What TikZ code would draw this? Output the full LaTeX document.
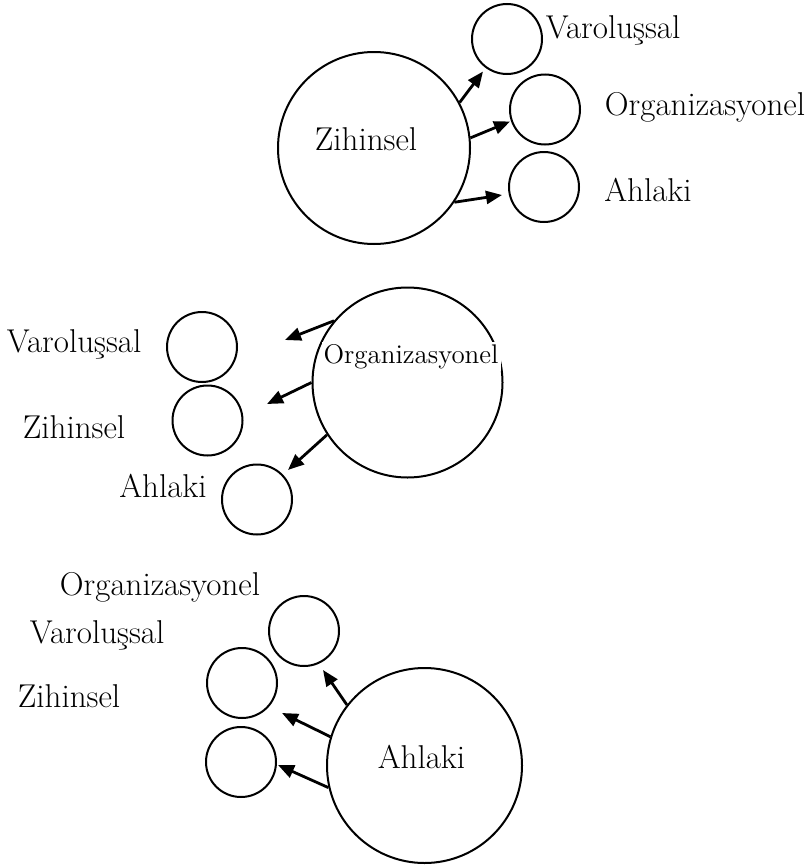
\documentclass[tikz,border=0pt]{standalone}
\usepackage{tikz}
\usetikzlibrary{arrows.meta}

\begin{document}
\begin{tikzpicture}[x=0.5pt, y=-0.5pt,
		kucuk/.style={circle, draw, line width=1pt, minimum size=35pt, inner sep=0pt},
		buyuk/.style={circle, draw, line width=1pt, inner sep=0pt},
		etiket/.style={anchor=base, inner sep=0pt, font=\fontsize{16.5}{19}\selectfont},
		ok/.style={line width=1.4pt, -{Triangle[length=8pt, width=6.5pt]}}]
				\useasboundingbox (0,0) rectangle (809,867);
				% Zihinsel
				\node[buyuk, minimum size=96pt] (zih) at (374,148) {};
				\node[etiket] (zihL) at (366,150) {Zihinsel};
				\node[kucuk] (zihV) at (507,39) {};
				\node[kucuk] (zihO) at (545,109.5) {};
				\node[kucuk] (zihA) at (544,187) {};
				\node[etiket] (zihVL) at (613,38.5) {Varoluşsal};
				\node[etiket] (zihOL) at (705,115) {Organizasyonel};
				\node[etiket] (zihAL) at (648,201.5) {Ahlaki};
				\coordinate (zihV1) at (483,71.5);
				\coordinate (zihO1) at (510,121.5);
				\coordinate (zihA1) at (502,195);
				\draw[ok] (zih.28) -- (zihV1);
				\draw[ok] (zih.6) -- (zihO1);
				\draw[ok] (zih.-34) -- (zihA1);
				
				% Organizasyonel
				\node[buyuk, minimum size=95pt] (org) at (407.5,382.5) {};
				\node[etiket, fill=white, inner sep=1pt, font=\fontsize{13.5}{16}\selectfont] (orgL) at (411,363) {Organizasyonel};
				\node[kucuk] (orgV) at (202,347) {};
				\node[kucuk] (orgZ) at (207.5,420.5) {};
				\node[kucuk] (orgA) at (257,499.5) {};
				\node[etiket] (orgVL) at (74,352) {Varoluşsal};
				\node[etiket] (orgZL) at (74,438) {Zihinsel};
				\node[etiket] (orgAL) at (163,497) {Ahlaki};
				\coordinate (orgV1) at (285,340);
				\coordinate (orgZ1) at (267,404);
				\coordinate (orgA1) at (288,470);
				\draw[ok] (org.140) -- (orgV1);
				\draw[ok] (org.180) -- (orgZ1);
				\draw[ok] (org.213) -- (orgA1);
				
				% Ahlaki
				\node[buyuk, minimum size=97.5pt] (ahl) at (424.5,765.5) {};
				\node[etiket] (ahlL) at (421.5,768) {Ahlaki};
				\node[kucuk] (ahlO) at (304,631) {};
				\node[kucuk] (ahlV) at (242,683) {};
				\node[kucuk] (ahlZ) at (241,762) {};
				\node[etiket] (ahlOL) at (160,595) {Organizasyonel};
				\node[etiket] (ahlVL) at (97,643) {Varoluşsal};
				\node[etiket] (ahlZL) at (69,707) {Zihinsel};
				\coordinate (ahlO1) at (323,670);
				\coordinate (ahlV1) at (282,713);
				\coordinate (ahlZ1) at (278,765);
				\draw[ok] (ahl.142) -- (ahlO1);
				\draw[ok] (ahl.163) -- (ahlV1);
				\draw[ok] (ahl.193) -- (ahlZ1);
\end{tikzpicture}
\end{document}
